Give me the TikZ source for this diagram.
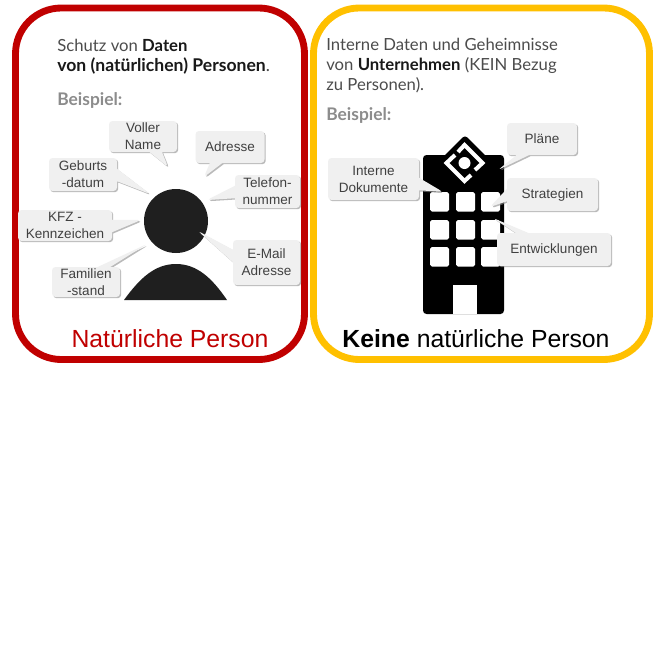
\documentclass[tikz,border=0pt]{standalone}
\usepackage{fontspec}
\setmainfont{Liberation Sans}
\newfontfamily\bodyfont{Lato}
\usetikzlibrary{shapes.callouts,shadows}

\tikzset{
    frame/.style={line width=3.9pt,rounded corners=26pt},
    bubble/.style={shape=rectangle callout,fill=black!6,rounded corners=2pt,inner sep=0pt,align=center,
        font=\fontsize{7.7pt}{9.7pt}\selectfont,text=black!75,
        drop shadow={shadow xshift=0.7pt,shadow yshift=-0.7pt,fill=black!45,opacity=0.6}},
    bodytext/.style={anchor=base west,inner sep=0pt,font=\bodyfont\fontsize{9.5pt}{11pt}\selectfont,text=black!70},
    hint/.style={anchor=base west,inner sep=0pt,font=\bodyfont\bfseries\fontsize{9.9pt}{11pt}\selectfont,text=black!45},
    heading/.style={anchor=base,font=\fontsize{14.1pt}{16pt}\selectfont}
}

\begin{document}
\begin{tikzpicture}[x=0.02cm,y=-0.02cm]
        \useasboundingbox (0,0) rectangle (660,660);
        \fill[white] (0,0) rectangle (660,660);
        % frames
        \draw[frame,color={rgb,255:red,192;green,0;blue,0}] (15.5,8) rectangle (304.5,359.5);
        \draw[frame,color={rgb,255:red,255;green,192;blue,0}] (313.5,8) rectangle (649.5,359.5);

        % left side
        \node[bodytext] (schutz) at (57,51) {Schutz von \textcolor{black!90}{\textbf{Daten}}};
        \node[bodytext,text=black!90,font=\bodyfont\fontsize{10pt}{11pt}\selectfont] (vonpers) at (57,71) {\textbf{von (natürlichen) Personen}\textcolor{black!70}{.}};
        \node[hint] (bspleft) at (57,105) {Beispiel:};
        \fill[black!88] (176,221) circle (32);
        \fill[black!88] (124,300) .. controls (140,278) and (155,264) .. (176,264) .. controls (197,264) and (212,278) .. (227,300) -- cycle;
        \coordinate (tipname) at (168,167);
        \coordinate (tipadr) at (204,177);
        \coordinate (tipgeb) at (150,194);
        \coordinate (tiptel) at (207,200);
        \coordinate (tipkfz) at (141,220);
        \coordinate (tipmail) at (198,231);
        \coordinate (tipfam) at (147,244);
        \node[bubble,minimum width=68*0.02cm,minimum height=31*0.02cm,callout absolute pointer={(tipname)}] (name) at (143,136.5) {Voller\\Name};
        \node[bubble,minimum width=69*0.02cm,minimum height=32*0.02cm,callout absolute pointer={(tipadr)}] (adresse) at (230,147) {Adresse};
        \node[bubble,minimum width=68*0.02cm,minimum height=33*0.02cm,callout absolute pointer={(tipgeb)}] (geburt) at (83,174.5) {Geburts\\-datum};
        \node[bubble,minimum width=65*0.02cm,minimum height=33*0.02cm,callout absolute pointer={(tiptel)}] (telefon) at (267.5,191.5) {Telefon-\\nummer};
        \node[bubble,minimum width=94*0.02cm,minimum height=31*0.02cm,callout absolute pointer={(tipkfz)}] (kfz) at (65,225.5) {KFZ -\\Kennzeichen};
        \node[bubble,minimum width=67*0.02cm,minimum height=45*0.02cm,callout absolute pointer={(tipmail)}] (mail) at (266.5,262.5) {E-Mail\\Adresse};
        \node[bubble,minimum width=68*0.02cm,minimum height=30*0.02cm,callout absolute pointer={(tipfam)}] (familie) at (86,282) {Familien\\-stand};
        \node[heading,text={rgb,255:red,192;green,0;blue,0}] (natur) at (170,347) {Natürliche Person};

        % right side
        \node[bodytext] (intern) at (326,50) {Interne Daten und Geheimnisse};
        \node[bodytext] (vonunt) at (326,70) {von \textcolor{black!90}{\textbf{Unternehmen}} (KEIN Bezug};
        \node[bodytext] (zupers) at (326,90) {zu Personen).};
        \node[hint] (bspright) at (326,120) {Beispiel:};
        \fill[black,rounded corners=2pt] (423,314) -- (423,155) -- (504,155) -- (504,314) -- cycle;
        \fill[black,rounded corners=2pt] (465,135) -- (493,163) -- (465,191) -- (437,163) -- cycle;
        \draw[white,line width=2.3pt] (458,152) -- (464.5,145) -- (482.5,163) -- (475,170);
        \draw[white,line width=2.3pt] (471,175) -- (464.5,181) -- (446.5,163) -- (455,155);
        \fill[white] (464.5,163) circle (6);
        \foreach \wx in {430,456,481}
            \foreach \wy in {192,220,247}
                \fill[white,rounded corners=1pt] (\wx,\wy) rectangle ++(19,19.5);
        \fill[white] (453,285) rectangle (477,314);
        \coordinate (tipplan) at (498,170);
        \coordinate (tipdok) at (443,192);
        \coordinate (tipstr) at (490,207);
        \coordinate (tipent) at (493,218);
        \node[bubble,minimum width=70*0.02cm,minimum height=32*0.02cm,callout absolute pointer={(tipplan)}] (plaene) at (542,139) {Pläne};
        \node[bubble,minimum width=91*0.02cm,minimum height=42*0.02cm,callout absolute pointer={(tipdok)}] (dokumente) at (373.5,179) {Interne\\Dokumente};
        \node[bubble,minimum width=91*0.02cm,minimum height=33*0.02cm,callout absolute pointer={(tipstr)}] (strategien) at (552.5,194.5) {Strategien};
        \node[bubble,minimum width=114*0.02cm,minimum height=33*0.02cm,callout absolute pointer={(tipent)}] (entwicklung) at (554,249.5) {Entwicklungen};
        \node[heading,text=black] (keine) at (476,347) {\textbf{Keine} natürliche Person};
\end{tikzpicture}
\end{document}
